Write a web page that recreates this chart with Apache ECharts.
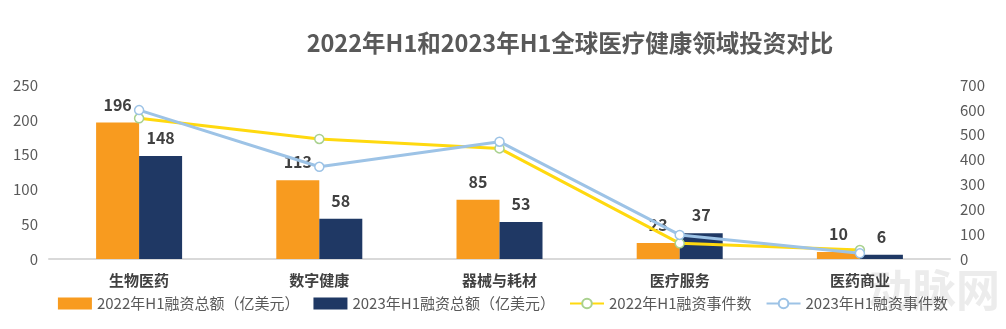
<!DOCTYPE html>
<html><head><meta charset="utf-8">
<script src="https://cdn.jsdelivr.net/npm/echarts@6/dist/echarts.min.js"></script>
<style>html,body{margin:0;padding:0;background:#fff}#c{width:1006px;height:329px}</style>
</head><body><div id="c"></div>
<script>
const categories = ['生物医药','数字健康','器械与耗材','医疗服务','医药商业'];
const amount2022 = [196,113,85,23,10];
const amount2023 = [148,58,53,37,6];
const events2022 = [566,483,445,63,36];
const events2023 = [599,371,472,97,23];
const seriesNames = ['2022年H1融资总额（亿美元）','2023年H1融资总额（亿美元）','2022年H1融资事件数','2023年H1融资事件数'];
const titleText = '2022年H1和2023年H1全球医疗健康领域投资对比';

const font = '"Noto Sans CJK SC","Open Sans",sans-serif';
const chart = echarts.init(document.getElementById('c'));
const barLabel = {show:true,position:'top',distance:10,color:'#404040',fontWeight:'bold',fontSize:16,fontFamily:font};
chart.setOption({
  animation:false,
  textStyle:{fontFamily:font},
  title:{text:titleText,left:565,top:26,textAlign:'center',textStyle:{fontSize:23.5,fontWeight:'bold',color:'#595959',fontFamily:font}},
  legend:{left:'center',top:291,itemWidth:34,itemHeight:12,itemGap:14,
    textStyle:{fontSize:15,color:'#595959',fontFamily:font},
    data:[{name:seriesNames[0],icon:'rect'},{name:seriesNames[1],icon:'rect'},{name:seriesNames[2]},{name:seriesNames[3]}]},
  grid:{left:49,right:56,top:85,bottom:70},
  xAxis:{type:'category',data:categories,
    axisLine:{lineStyle:{color:'#d9d9d9',width:2}},axisTick:{show:false},
    axisLabel:{color:'#404040',fontWeight:'bold',fontSize:15,margin:14,fontFamily:font}},
  yAxis:[
    {type:'value',min:0,max:250,interval:50,splitLine:{show:false},
     axisLabel:{color:'#595959',fontSize:15,margin:11,fontFamily:font}},
    {type:'value',min:0,max:700,interval:100,splitLine:{show:false},
     axisLabel:{color:'#595959',fontSize:15,margin:10,fontFamily:font}}
  ],
  series:[
    {name:seriesNames[0],type:'bar',data:amount2022,barWidth:43,barGap:'0%',itemStyle:{color:'#F89B1F'},label:barLabel},
    {name:seriesNames[1],type:'bar',data:amount2023,barWidth:43,itemStyle:{color:'#1F3864'},label:barLabel},
    {name:seriesNames[2],type:'line',yAxisIndex:1,data:events2022,symbol:'circle',symbolSize:9,
     lineStyle:{color:'#FFD90F',width:3},itemStyle:{color:'#fff',borderColor:'#A9D18E',borderWidth:1.5}},
    {name:seriesNames[3],type:'line',yAxisIndex:1,data:events2023,symbol:'circle',symbolSize:9,
     lineStyle:{color:'#9DC3E6',width:3},itemStyle:{color:'#fff',borderColor:'#9DC3E6',borderWidth:1.5}}
  ],
  graphic:[{type:'text',right:6,top:268,silent:true,z:-1,
    style:{text:'动脉网',fill:'rgba(200,200,200,0.35)',fontSize:44,fontWeight:'bold',fontFamily:font}}]
});
</script></body></html>
